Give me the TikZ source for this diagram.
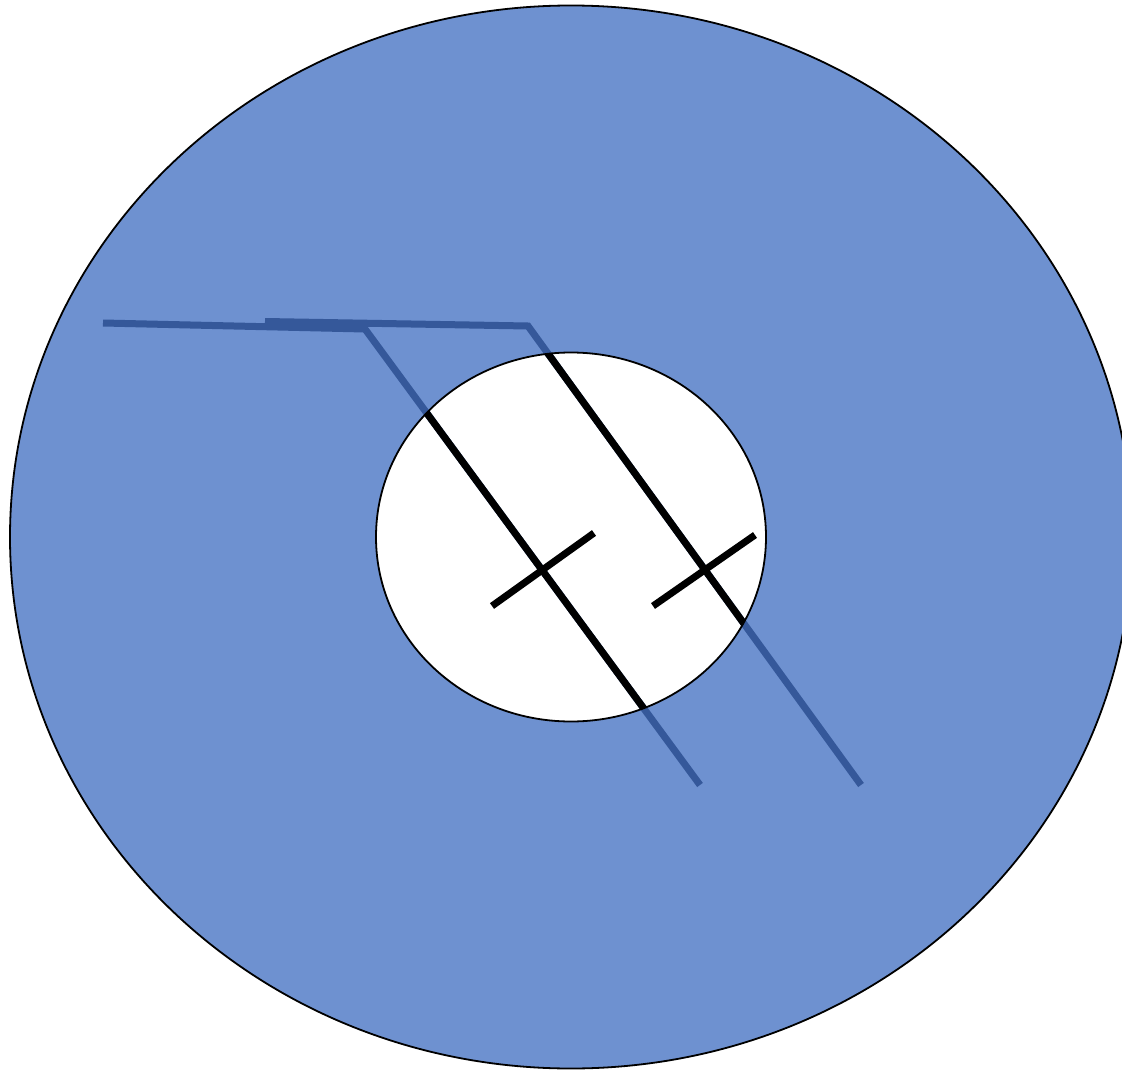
\documentclass[tikz,border=0pt]{standalone}
\definecolor{disc}{HTML}{6E91D0}
\definecolor{wire}{HTML}{35589A}
\tikzset{
  wireline/.style={draw=wire, line width=7pt, line join=miter},
  blackline/.style={draw=black, line width=7pt, line join=miter},
}
\begin{document}
\begin{tikzpicture}[x=1pt,y=-1pt]
\useasboundingbox (0,0) rectangle (1122,1070);
\coordinate (c) at (571,537);
% outer disc
\fill[disc] (c) ellipse [x radius=561, y radius=531.5];
\draw[black, line width=1.8pt] (c) ellipse [x radius=561, y radius=531.5];
% inner hole
\fill[white] (c) ellipse [x radius=195, y radius=184.5];
% wires
\coordinate (a1) at (103,323);
\coordinate (a2) at (365,329);
\coordinate (a3) at (700,785);
\coordinate (b1) at (265,321.5);
\coordinate (b2) at (528,326);
\coordinate (b3) at (861,785);
\path[wireline] (a1) -- (a2) -- (a3);
\path[wireline] (b1) -- (b2) -- (b3);
\begin{scope}
  \clip (c) ellipse [x radius=195, y radius=184.5];
  \path[blackline] (a1) -- (a2) -- (a3);
  \path[blackline] (b1) -- (b2) -- (b3);
\end{scope}
% crosses
\coordinate (p1) at (492,606);
\coordinate (q1) at (594,533);
\coordinate (p2) at (653,606);
\coordinate (q2) at (755,535);
\path[blackline] (p1) -- (q1);
\path[blackline] (p2) -- (q2);
\draw[black, line width=1.8pt] (c) ellipse [x radius=195, y radius=184.5];
\end{tikzpicture}
\end{document}
